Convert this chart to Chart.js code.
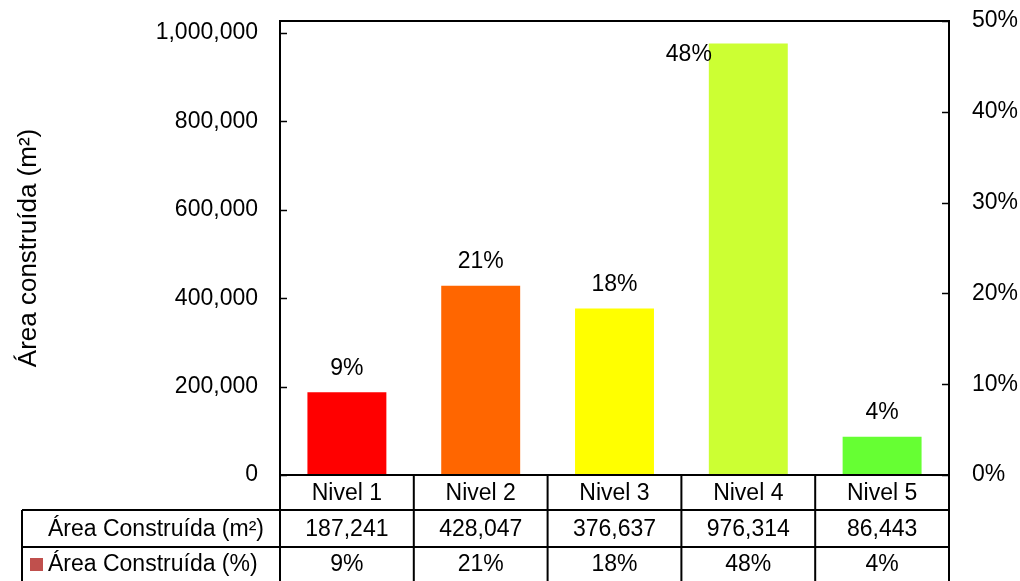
<!DOCTYPE html>
<html>
<head>
<meta charset="utf-8">
<script src="https://cdn.jsdelivr.net/npm/chart.js@4/dist/chart.umd.min.js"></script>
<style>
  html, body { margin: 0; padding: 0; background: #fff; }
  #wrap { width: 1020px; height: 581px; position: relative; }
</style>
</head>
<body>
<div id="wrap"><canvas id="c"></canvas></div>
<script>
const categories = ['Nivel 1', 'Nivel 2', 'Nivel 3', 'Nivel 4', 'Nivel 5'];
const areaM2 = [187241, 428047, 376637, 976314, 86443];
const areaPct = [9.11, 20.83, 18.33, 47.52, 4.21];
const barColors = ['#FF0000', '#FF6600', '#FFFF00', '#CCFF33', '#66FF33'];
const leftTicks = [0, 200000, 400000, 600000, 800000, 1000000];
const rightTicks = [0, 10, 20, 30, 40, 50];
const leftMax = 1027341;
const rightMax = 50;
const rowLabels = ['Área Construída (m²)', 'Área Construída (%)'];
const yTitle = 'Área construída (m²)';
const legendColor = '#C0504D';

const FONT = "'Liberation Sans', Arial, sans-serif";
const fmt = v => v.toLocaleString('en-US');

const tablePlugin = {
  id: 'excelTable',
  afterDraw(chart) {
    const ctx = chart.ctx;
    const a = chart.chartArea;
    const xs = chart.scales.x, ys = chart.scales.y, y2 = chart.scales.y2;
    const meta = chart.getDatasetMeta(0);
    ctx.save();
    // frame
    ctx.strokeStyle = '#000';
    ctx.lineWidth = 2;
    ctx.strokeRect(a.left, a.top, a.right - a.left, a.bottom - a.top);
    // inward tick marks
    ctx.lineWidth = 1.5;
    leftTicks.forEach(v => {
      const y = Math.round(ys.getPixelForValue(v)) + 0.5;
      ctx.beginPath(); ctx.moveTo(a.left, y); ctx.lineTo(a.left + 7, y); ctx.stroke();
    });
    rightTicks.forEach(v => {
      const y = Math.round(y2.getPixelForValue(v)) + 0.5;
      ctx.beginPath(); ctx.moveTo(a.right - 7, y); ctx.lineTo(a.right, y); ctx.stroke();
    });
    // percent labels
    ctx.fillStyle = '#000';
    ctx.font = '23px ' + FONT;
    ctx.textBaseline = 'middle';
    areaPct.forEach((p, i) => {
      const x = xs.getPixelForValue(i);
      let y = y2.getPixelForValue(p) - 24;
      const txt = Math.round(p) + '%';
      if (y - 12 < a.top) {
        const bar = meta.data[i];
        ctx.textAlign = 'right';
        ctx.fillText(txt, x - bar.width / 2 + 3, bar.y + 11);
      } else {
        ctx.textAlign = 'center';
        ctx.fillText(txt, x, y);
      }
    });
    // data table
    const n = categories.length;
    const colW = (a.right - a.left) / n;
    const rowTop = [a.bottom, a.bottom + 35, a.bottom + 72];
    const rowBot = a.bottom + 109;
    const tableLeft = 22;
    ctx.lineWidth = 2;
    ctx.beginPath();
    ctx.moveTo(a.left, rowTop[0]); ctx.lineTo(a.right, rowTop[0]);
    ctx.moveTo(tableLeft, rowTop[1]); ctx.lineTo(a.right, rowTop[1]);
    ctx.moveTo(tableLeft, rowTop[2]); ctx.lineTo(a.right, rowTop[2]);
    ctx.moveTo(tableLeft, rowBot); ctx.lineTo(a.right, rowBot);
    for (let i = 0; i <= n; i++) {
      const x = a.left + i * colW;
      ctx.moveTo(x, rowTop[0]); ctx.lineTo(x, rowBot);
    }
    ctx.moveTo(tableLeft, rowTop[1]); ctx.lineTo(tableLeft, rowBot);
    ctx.stroke();
    ctx.textAlign = 'center';
    categories.forEach((c, i) => {
      const x = xs.getPixelForValue(i);
      ctx.fillText(c, x, (rowTop[0] + rowTop[1]) / 2 + 1);
      ctx.fillText(fmt(areaM2[i]), x, (rowTop[1] + rowTop[2]) / 2 + 1);
      ctx.fillText(Math.round(areaPct[i]) + '%', x, (rowTop[2] + rowBot) / 2 - 1);
    });
    ctx.textAlign = 'left';
    ctx.fillText(rowLabels[0], 48, (rowTop[1] + rowTop[2]) / 2 + 1);
    ctx.fillText(rowLabels[1], 48, (rowTop[2] + rowBot) / 2 - 1);
    ctx.fillStyle = legendColor;
    ctx.fillRect(30, rowTop[2] + 11, 13, 13);
    ctx.restore();
  }
};

const zeroPad = s => { s.paddingTop = 0; s.paddingBottom = 0; };

new Chart(document.getElementById('c'), {
  data: {
    labels: categories,
    datasets: [
      {
        type: 'bar',
        data: areaM2,
        backgroundColor: barColors,
        borderWidth: 0,
        barPercentage: 0.59,
        categoryPercentage: 1,
        yAxisID: 'y',
        order: 2
      },
      {
        type: 'line',
        data: areaPct,
        showLine: false,
        pointRadius: 0,
        pointHoverRadius: 0,
        yAxisID: 'y2',
        order: 1
      }
    ]
  },
  options: {
    responsive: true,
    maintainAspectRatio: false,
    animation: false,
    devicePixelRatio: 1,
    layout: { padding: { top: 21, bottom: 106, left: 0, right: 0 } },
    plugins: { legend: { display: false }, tooltip: { enabled: false } },
    scales: {
      x: { display: false },
      y: {
        position: 'left',
        min: 0,
        max: leftMax,
        afterBuildTicks: s => { s.ticks = leftTicks.map(v => ({ value: v })); },
        afterFit: s => { s.width = 280; zeroPad(s); },
        grid: { display: false, drawTicks: false },
        border: { display: false },
        ticks: {
          padding: 22,
          color: '#000',
          font: { family: FONT, size: 23 },
          callback: v => fmt(v)
        },
        title: {
          display: true,
          text: yTitle,
          color: '#000',
          font: { family: FONT, size: 26 },
          padding: { top: 13, bottom: 0 }
        }
      },
      y2: {
        position: 'right',
        min: 0,
        max: rightMax,
        afterBuildTicks: s => { s.ticks = rightTicks.map(v => ({ value: v })); },
        afterFit: s => { s.width = 71; zeroPad(s); },
        grid: { display: false, drawTicks: false },
        border: { display: false },
        ticks: {
          padding: 23,
          color: '#000',
          font: { family: FONT, size: 23 },
          callback: v => v + '%'
        }
      }
    }
  },
  plugins: [tablePlugin]
});
</script>
</body>
</html>
